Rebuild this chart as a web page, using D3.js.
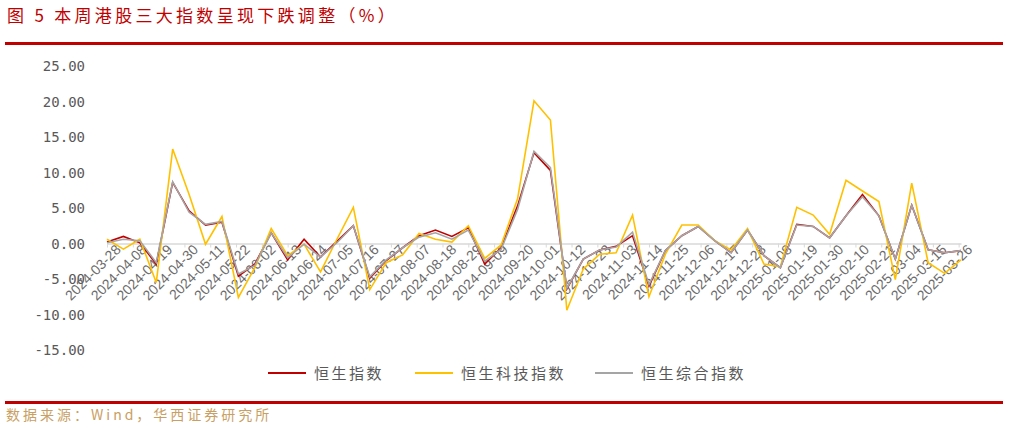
<!DOCTYPE html>
<html>
<head>
<meta charset="utf-8">
<script src="https://cdn.jsdelivr.net/npm/d3@7"></script>
<style>
  body { margin: 0; background: #fff; }
  svg { display: block; font-family: "Noto Sans CJK SC", sans-serif; }
</style>
</head>
<body>
<svg id="drawing_region"></svg>
<script>
// weekly returns (%), first week 2024-03-28
const seriesNames = ['恒生指数', '恒生科技指数', '恒生综合指数'];
const hsi = [0.2, 1.0, 0.1, -2.9, 8.6, 4.6, 2.6, 3.0, -4.6, -2.9, 1.5, -2.3, 0.6, -1.9, 0.3, 2.5, -4.9, -2.4, -0.6, 1.1, 1.9, 1.0, 2.2, -2.9, -0.6, 5.3,
  12.8, 10.3, -6.4, -2.2, -0.9, -0.4, 1.1, -6.0, -1.0, 1.1, 2.4, 0.4, -1.3, 1.9, -1.7, -3.4, 2.7, 2.4, 0.8, 3.9, 6.9, 3.9, -2.2, 5.4, -0.9, -1.3, -1.0];
const hstech = [0.6, -0.8, 0.6, -5.5, 13.3, 6.9, -0.1, 3.8, -7.6, -3.4, 2.1, -1.7, -0.1, -4.0, 0.6, 5.1, -6.5, -2.7, -1.6, 1.4, 0.6, 0.2, 2.5, -2.1, -0.2, 6.3,
  20.1, 17.4, -9.4, -3.6, -1.5, -1.3, 4.0, -7.5, -1.5, 2.6, 2.6, 0.4, -0.9, 2.1, -2.9, -3.3, 5.1, 4.0, 1.3, 8.9, 7.4, 5.9, -5.1, 8.5, -2.7, -4.2, -2.3];
const hsci = [0.1, 0.6, 0.4, -2.7, 8.7, 4.4, 2.7, 3.1, -4.3, -3.1, 1.5, -2.0, -0.1, -1.9, 0.1, 2.5, -4.7, -2.3, -0.6, 0.9, 1.5, 0.6, 1.9, -2.5, -0.8, 4.8,
  13.0, 10.7, -6.3, -2.2, -0.9, -0.5, 1.6, -5.8, -1.0, 1.1, 2.4, 0.4, -1.3, 1.9, -1.7, -3.4, 2.6, 2.4, 0.8, 3.9, 6.6, 3.9, -2.2, 5.4, -0.9, -1.3, -1.0];
const yTicks = [25, 20, 15, 10, 5, 0, -5, -10, -15];
const colors = ['#c00000', '#ffc000', '#a5a5a5'];

const start = new Date(2024, 2, 28);
const dates = hsi.map((d, i) => d3.timeDay.offset(start, i * 7));
const tickDates = d3.range(0, 34).map(i => d3.timeDay.offset(start, i * 11));

const width = 1032, height = 428;
const svg = d3.select('#drawing_region').attr('width', width).attr('height', height);

svg.append('text').attr('x', 7).attr('y', 22)
  .attr('fill', '#c00000').attr('font-size', '17px').attr('letter-spacing', '3.3px')
  .text('图 5 本周港股三大指数呈现下跌调整（%）');
svg.append('rect').attr('x', 5).attr('y', 42).attr('width', 998).attr('height', 3).attr('fill', '#c00000');
svg.append('rect').attr('x', 5).attr('y', 401).attr('width', 998).attr('height', 3).attr('fill', '#c00000');
svg.append('text').attr('x', 6).attr('y', 420)
  .attr('fill', '#c9a063').attr('font-size', '14px').attr('letter-spacing', '3px')
  .text('数据来源：Wind，华西证券研究所');

const xscale = d3.scaleTime().domain([start, dates[dates.length - 1]]).range([107, 961]);
const yscale = d3.scaleLinear().domain([-15, 25]).range([350, 66]);

// y labels
svg.append('g').selectAll('text').data(yTicks).join('text')
  .attr('x', 85).attr('y', d => yscale(d) + 5)
  .attr('text-anchor', 'end').attr('fill', '#595959').attr('font-size', '14px')
  .attr('font-family', 'DejaVu Sans Mono, monospace')
  .text(d => d.toFixed(2));

// x axis along zero
const xaxis = d3.axisBottom(xscale).tickValues(tickDates).tickSize(4).tickSizeOuter(0)
  .tickFormat(d3.timeFormat('%Y-%m-%d'));
const xg = svg.append('g').attr('transform', `translate(0, ${yscale(0)})`).call(xaxis);
xg.select('.domain').attr('stroke', '#d9d9d9').attr('stroke-width', 1.5);
xg.selectAll('line').attr('stroke', '#d9d9d9');
xg.selectAll('text')
  .attr('fill', '#6b6b6b').attr('font-size', '14px')
  .attr('font-family', 'Liberation Sans, Arial, sans-serif')
  .attr('text-anchor', 'end').attr('dx', '5').attr('dy', '8')
  .attr('transform', 'rotate(-45)');

const line = d3.line().x((d, i) => xscale(dates[i])).y(d => yscale(d));
[hsi, hstech, hsci].forEach((s, k) => {
  svg.append('path').datum(s).attr('d', line)
    .attr('fill', 'none').attr('stroke', colors[k]).attr('stroke-width', 1.6);
});

// legend
const legX = [268, 415, 595];
seriesNames.forEach((n, i) => {
  svg.append('line').attr('x1', legX[i]).attr('x2', legX[i] + 38)
    .attr('y1', 373).attr('y2', 373).attr('stroke', colors[i]).attr('stroke-width', 2);
  svg.append('text').attr('x', legX[i] + 46).attr('y', 379)
    .attr('fill', '#595959').attr('font-size', '15px').attr('letter-spacing', '2.5px').text(n);
});
</script>
</body>
</html>
